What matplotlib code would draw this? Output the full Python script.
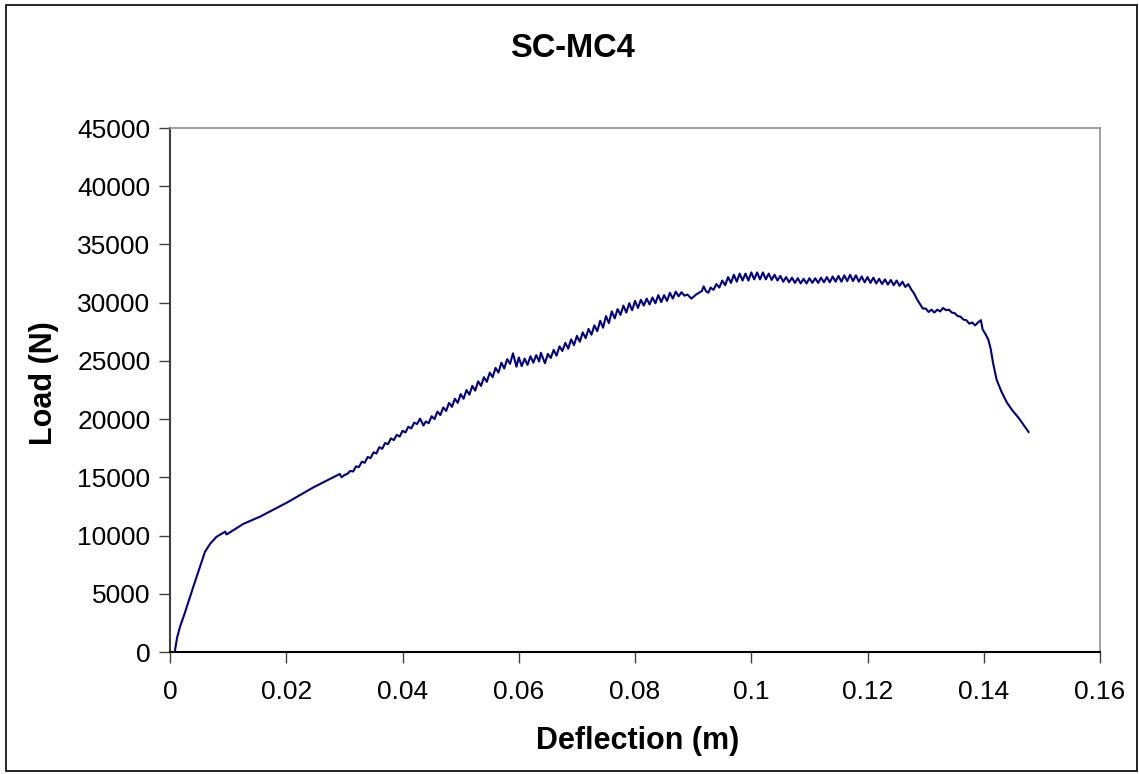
import matplotlib
matplotlib.use('Agg')
import matplotlib.pyplot as plt
from matplotlib.patches import Rectangle

# load-deflection readings for specimen SC-MC4
deflection = [
    0.0, 0.0008, 0.0012, 0.0017, 0.0025, 0.004, 0.005, 0.006, 0.0069, 0.008,
    0.0095, 0.0097, 0.0099, 0.0126, 0.0155, 0.0201, 0.0247, 0.0292, 0.0295,
    0.0300, 0.0305, 0.0310, 0.0315, 0.0320, 0.0325, 0.0330, 0.0335, 0.0340, 0.0345,
    0.0350, 0.0355, 0.0360, 0.0365, 0.0370, 0.0375, 0.0380, 0.0385, 0.0390, 0.0395,
    0.0400, 0.0405, 0.0410, 0.0415, 0.0420, 0.0425, 0.0430, 0.0436, 0.0440, 0.0445,
    0.0450, 0.0455, 0.0460, 0.0465, 0.0470, 0.0475, 0.0480, 0.0485, 0.0490, 0.0495,
    0.0500, 0.0505, 0.0510, 0.0515, 0.0520, 0.0525, 0.0530, 0.0535, 0.0540, 0.0545,
    0.0550, 0.0555, 0.0560, 0.0565, 0.0570, 0.0575, 0.0580, 0.0585, 0.0590, 0.0596,
    0.0600, 0.0605, 0.0610, 0.0615, 0.0620, 0.0625, 0.0630, 0.0635, 0.0638, 0.0645,
    0.0650, 0.0655, 0.0660, 0.0665, 0.0670, 0.0675, 0.0680, 0.0685, 0.0690, 0.0695,
    0.0700, 0.0705, 0.0710, 0.0715, 0.0720, 0.0725, 0.0730, 0.0735, 0.0740, 0.0745,
    0.0750, 0.0755, 0.0760, 0.0765, 0.0770, 0.0775, 0.0780, 0.0785, 0.0790, 0.0795,
    0.0800, 0.0805, 0.0810, 0.0815, 0.0820, 0.0825, 0.0830, 0.0835, 0.0840, 0.0845,
    0.0850, 0.0855, 0.0860, 0.0865, 0.0870, 0.0875, 0.0880, 0.0885, 0.0890, 0.0897,
    0.0905, 0.0910, 0.0915, 0.0918, 0.0922, 0.0926, 0.0930, 0.0935, 0.0940, 0.0945,
    0.0950, 0.0955, 0.0960, 0.0965, 0.0970, 0.0975, 0.0980, 0.0985, 0.0990, 0.0995,
    0.1000, 0.1005, 0.1010, 0.1015, 0.1020, 0.1025, 0.1030, 0.1035, 0.1040, 0.1045,
    0.1050, 0.1055, 0.1060, 0.1065, 0.1070, 0.1075, 0.1080, 0.1085, 0.1090, 0.1095,
    0.1100, 0.1105, 0.1110, 0.1115, 0.1120, 0.1125, 0.1130, 0.1135, 0.1140, 0.1145,
    0.1150, 0.1155, 0.1160, 0.1165, 0.1170, 0.1175, 0.1180, 0.1185, 0.1190, 0.1195,
    0.1200, 0.1205, 0.1210, 0.1215, 0.1220, 0.1225, 0.1230, 0.1235, 0.1240, 0.1245,
    0.1250, 0.1255, 0.1260, 0.1265, 0.1270, 0.1275, 0.1280, 0.1285, 0.1290, 0.1295,
    0.1300, 0.1305, 0.1310, 0.1315, 0.1320, 0.1325, 0.1330, 0.1335, 0.1340, 0.1345,
    0.1350, 0.1355, 0.1360, 0.1365, 0.1370, 0.1375, 0.1380, 0.1385, 0.1390, 0.1395,
    0.1398, 0.1403, 0.1408, 0.1412, 0.1416, 0.1422, 0.1430, 0.1440, 0.1450, 0.1460,
    0.1470, 0.1477,
]
load = [
    0, 0, 1200, 2150, 3300, 5600, 7100, 8600, 9300, 9900,
    10340, 10100, 10150, 11000, 11630, 12830, 14150, 15290, 15010,
    15200, 15300, 15550, 15500, 15950, 15880, 16350, 16250, 16750, 16650,
    17150, 17050, 17600, 17450, 17950, 17850, 18350, 18200, 18650, 18500,
    19000, 18850, 19350, 19200, 19700, 19580, 20050, 19450, 19800, 19650,
    20250, 20000, 20650, 20350, 21000, 20700, 21400, 21050, 21750, 21400,
    22150, 21750, 22500, 22100, 22850, 22450, 23250, 22850, 23600, 23200,
    24000, 23600, 24400, 24000, 24850, 24350, 25150, 24750, 25650, 24500,
    25300, 24550, 25200, 24650, 25400, 24850, 25500, 24950, 25700, 24800,
    25600, 25250, 25950, 25450, 26250, 25850, 26550, 26050, 26850, 26350,
    27150, 26650, 27450, 26950, 27750, 27250, 28050, 27550, 28450, 27850,
    28850, 28250, 29250, 28650, 29450, 28950, 29750, 29150, 29950, 29350,
    30150, 29550, 30250, 29750, 30350, 29850, 30450, 29950, 30650, 30050,
    30650, 30150, 30850, 30350, 30950, 30550, 30900, 30600, 30700, 30350,
    30700, 30850, 31000, 31400, 31000, 30850, 31300, 31100, 31600, 31300,
    31900, 31500, 32200, 31700, 32400, 31800, 32500, 31900, 32500, 31900,
    32600, 32000, 32600, 32000, 32600, 32000, 32500, 31950, 32400, 31900,
    32300, 31800, 32200, 31750, 32150, 31700, 32100, 31650, 32050, 31650,
    32100, 31700, 32100, 31700, 32150, 31750, 32200, 31750, 32250, 31800,
    32300, 31800, 32350, 31850, 32400, 31850, 32350, 31800, 32250, 31750,
    32200, 31700, 32150, 31650, 32050, 31600, 32000, 31550, 31950, 31500,
    31900, 31450, 31800, 31350, 31600, 31150, 30800, 30300, 29900, 29500,
    29500, 29200, 29400, 29150, 29400, 29250, 29550, 29350, 29400, 29150,
    29100, 28850, 28800, 28550, 28500, 28200, 28300, 28050, 28300, 28500,
    27700, 27300, 26800, 26000, 24800, 23400, 22400, 21400, 20700, 20100,
    19400, 18900,
]

x_ticks = [0, 0.02, 0.04, 0.06, 0.08, 0.1, 0.12, 0.14, 0.16]
x_tick_labels = ['0', '0.02', '0.04', '0.06', '0.08', '0.1', '0.12', '0.14', '0.16']
y_ticks = [0, 5000, 10000, 15000, 20000, 25000, 30000, 35000, 40000, 45000]

plt.rcParams['font.family'] = ['Liberation Sans', 'DejaVu Sans']

fig = plt.figure(figsize=(11.39, 7.74), dpi=100)
fig.patches.append(Rectangle((0.005, 0.004), 0.993, 0.99, transform=fig.transFigure,
                             fill=False, edgecolor='black', linewidth=1.2))

ax = fig.add_axes([0.1493, 0.1576, 0.8165, 0.677])
ax.plot(deflection, load, color='#000080', linewidth=1.5)

ax.set_xlim(0, 0.16)
ax.set_ylim(0, 45000)
ax.set_xticks(x_ticks)
ax.set_xticklabels(x_tick_labels)
ax.set_yticks(y_ticks)
ax.set_yticklabels([str(v) for v in y_ticks])
ax.tick_params(axis='both', direction='out', length=8, width=1, colors='#404040',
               labelcolor='black', labelsize=19)
ax.tick_params(axis='x', pad=12)
ax.tick_params(axis='y', pad=6)

for side in ['top', 'right']:
    ax.spines[side].set_color('#909090')
    ax.spines[side].set_linewidth(1.2)
ax.spines['left'].set_color('#404040')
ax.spines['bottom'].set_color('black')
ax.spines['left'].set_linewidth(1.5)
ax.spines['bottom'].set_linewidth(1.5)

fig.text(0.503, 0.937, 'SC-MC4', ha='center', va='center', fontsize=23.5, fontweight='bold')
fig.text(0.560, 0.043, 'Deflection (m)', ha='center', va='center', fontsize=22, fontweight='bold')
fig.text(0.039, 0.505, 'Load (N)', ha='center', va='center', rotation=90,
         fontsize=22, fontweight='bold')

fig.savefig('out.png', dpi=100)
